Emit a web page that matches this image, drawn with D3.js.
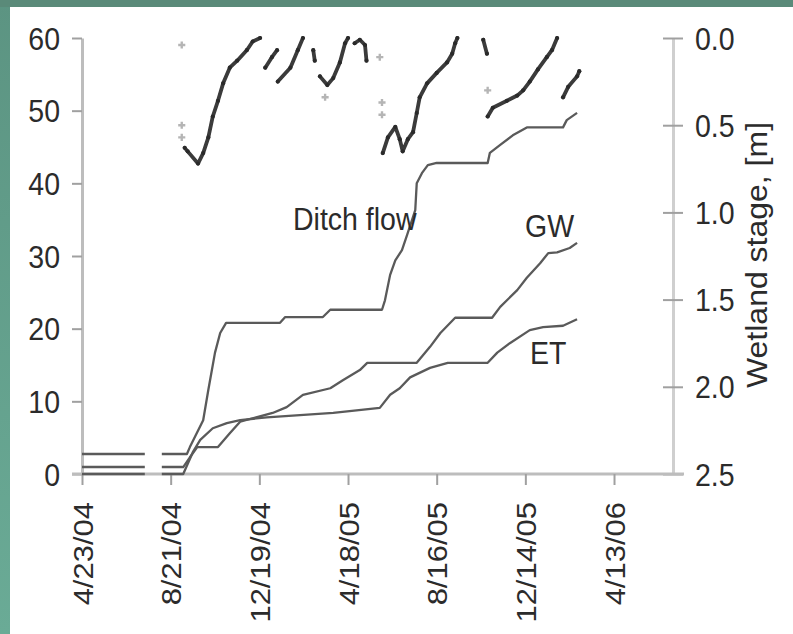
<!DOCTYPE html>
<html>
<head>
<meta charset="utf-8">
<script src="https://cdn.jsdelivr.net/npm/d3@7"></script>
<style>
  html, body { margin: 0; padding: 0; background: #fff; }
  svg { display: block; }
  text { font-family: "Liberation Sans", Arial, Helvetica, sans-serif; fill: #2b2b2b; }
</style>
</head>
<body>
<svg id="chart" width="793" height="634"></svg>
<script>
// ---- Data (days since 4/23/04) ----
const xTickDays = [0, 120, 240, 360, 480, 600, 720];
const xTickLabels = ["4/23/04", "8/21/04", "12/19/04", "4/18/05", "8/16/05", "12/14/05", "4/13/06"];
const yTicks = [0, 10, 20, 30, 40, 50, 60];
const y2Ticks = [0, 0.5, 1.0, 1.5, 2.0, 2.5];

const ditchDay  = [0, 85, 96, 108, 142, 146, 164, 171, 180, 187, 195, 268, 275, 326, 336, 406, 410, 417, 424, 433, 440, 451, 453, 460, 468, 480, 549, 552, 566, 583, 602, 651, 656, 670];
const ditchFlow = [2.75, 2.75, null, 2.75, 2.75, 3.7, 7.4, 11.6, 16.7, 19.4, 20.8, 20.8, 21.6, 21.6, 22.6, 22.6, 23.9, 27.4, 29.4, 30.8, 32.9, 36.3, 40.0, 41.4, 42.5, 42.8, 42.8, 44.2, 45.3, 46.6, 47.7, 47.7, 48.7, 49.7];

const gwDay  = [0, 85, 96, 108, 137, 146, 156, 184, 200, 214, 258, 277, 299, 336, 353, 376, 386, 453, 471, 485, 505, 555, 566, 589, 602, 620, 631, 643, 660, 670];
const gwFlow = [0.96, 0.96, null, 0.96, 0.96, 2.3, 3.7, 3.7, 5.6, 7.2, 8.4, 9.2, 10.9, 11.8, 12.9, 14.3, 15.3, 15.3, 17.5, 19.4, 21.5, 21.5, 23.0, 25.3, 27.0, 29.0, 30.4, 30.5, 31.1, 31.8];

const etDay  = [0, 85, 96, 108, 137, 150, 160, 177, 196, 214, 250, 340, 403, 417, 430, 444, 471, 495, 549, 562, 579, 606, 624, 651, 670];
const etFlow = [0, 0, null, 0, 0, 3.0, 4.7, 6.3, 7.0, 7.4, 7.8, 8.4, 9.1, 10.9, 11.8, 13.3, 14.6, 15.3, 15.3, 16.7, 18.0, 19.8, 20.2, 20.4, 21.3];

// wetland stage (m, right axis, inverted); null separates record pieces
const stageDay = [139, 143, 157, 164, 171, 177, 184, 191, 200, 210, 223, 231, 241, null,
                  248, 257, 264, null,
                  265, 282, 292, 299, null,
                  313, 315, null,
                  322, 332, 340, 349, 356, 360, null,
                  369, 376, 383, 385, null,
                  407, 414, 424, 430, 434, 441, 448, 453, 457, 467, 480, 494, 501, 505, 508, null,
                  543, 548, null,
                  549, 556, 575, 589, 597, 606, 617, 629, 636, 643, null,
                  651, 658, 670, 673];
const stage    = [0.63, 0.65, 0.72, 0.66, 0.57, 0.45, 0.36, 0.26, 0.17, 0.13, 0.07, 0.02, 0.0, null,
                  0.17, 0.11, 0.07, null,
                  0.25, 0.17, 0.07, 0.0, null,
                  0.07, 0.13, null,
                  0.22, 0.27, 0.23, 0.14, 0.03, 0.0, null,
                  0.03, 0.01, 0.04, 0.13, null,
                  0.66, 0.57, 0.51, 0.58, 0.65, 0.58, 0.54, 0.43, 0.34, 0.26, 0.20, 0.14, 0.09, 0.03, 0.0, null,
                  0.01, 0.09, null,
                  0.45, 0.40, 0.36, 0.33, 0.30, 0.25, 0.18, 0.11, 0.07, 0.0, null,
                  0.34, 0.28, 0.22, 0.19];
const stageLooseDay = [135, 135, 135, 329, 403, 406, 406, 549];
const stageLoose    = [0.04, 0.50, 0.57, 0.34, 0.11, 0.37, 0.44, 0.30];

const seriesLabels = ["Ditch flow", "GW", "ET"];
const rightTitle = "Wetland stage, [m]";

// ---- Drawing ----
const svg = d3.select("#chart");
const W = 793, H = 634;
const SX = 0.92; // horizontal squeeze of the glyphs

// background frame
const defs = svg.append("defs");
const grad = defs.append("linearGradient").attr("id", "frameGrad").attr("x1", 0).attr("y1", 0).attr("x2", 0).attr("y2", 1);
grad.append("stop").attr("offset", "0%").attr("stop-color", "#5c9482");
grad.append("stop").attr("offset", "100%").attr("stop-color", "#6aab96");
const blur = defs.append("filter").attr("id", "soft").attr("x", "-5%").attr("y", "-5%").attr("width", "110%").attr("height", "110%");
blur.append("feGaussianBlur").attr("stdDeviation", 0.45);
svg.append("rect").attr("x", 0).attr("y", 0).attr("width", W).attr("height", H).attr("fill", "url(#frameGrad)");
svg.append("rect").attr("x", 0).attr("y", 0).attr("width", W).attr("height", 7).attr("fill", "#5a8a79");
svg.append("rect").attr("x", 10).attr("y", 7).attr("width", W - 10).attr("height", H - 7).attr("fill", "#ffffff");

const x = d3.scaleLinear().domain([0, 812]).range([82, 682]);
const y = d3.scaleLinear().domain([0, 60]).range([474, 38]);
const y2 = d3.scaleLinear().domain([0, 2.5]).range([38, 474]);

const axisColor = "#bdbdbd";
const tickColor = "#a0a0a0";
const fs = 31;

// left axis
const gL = svg.append("g").attr("transform", "translate(82,0)")
  .call(d3.axisLeft(y).tickValues(yTicks).tickSize(10).tickSizeOuter(0).tickFormat(d3.format("d")));
gL.select(".domain").attr("stroke", axisColor).attr("stroke-width", 3);
gL.selectAll(".tick line").attr("stroke", tickColor).attr("stroke-width", 2);
gL.selectAll(".tick text")
  .attr("x", null).attr("dy", "0.36em")
  .attr("transform", `translate(-22,0) scale(${SX},1)`)
  .attr("text-anchor", "end").attr("font-size", fs).attr("fill", "#2b2b2b")
  .attr("font-family", '"Liberation Sans", Arial, sans-serif');

// right axis
const gR = svg.append("g").attr("transform", "translate(673,0)")
  .call(d3.axisRight(y2).tickValues(y2Ticks).tickSize(10).tickSizeOuter(0).tickFormat(d3.format(".1f")));
gR.select(".domain").attr("stroke", "#cfcfcf").attr("stroke-width", 3);
gR.selectAll(".tick line").attr("x1", -10).attr("x2", 10).attr("stroke", tickColor).attr("stroke-width", 2);
gR.selectAll(".tick text")
  .attr("x", null).attr("dy", "0.36em")
  .attr("transform", `translate(22,0) scale(${SX},1)`)
  .attr("text-anchor", "start").attr("font-size", fs).attr("fill", "#2b2b2b")
  .attr("font-family", '"Liberation Sans", Arial, sans-serif');

// bottom axis
const gB = svg.append("g").attr("transform", "translate(0,474)")
  .call(d3.axisBottom(x).tickValues(xTickDays).tickSize(11).tickSizeOuter(0)
    .tickFormat((d, i) => xTickLabels[i]));
gB.select(".domain").attr("stroke", axisColor).attr("stroke-width", 3)
  .attr("d", `M72,0H684`);
gB.selectAll(".tick line").attr("stroke", tickColor).attr("stroke-width", 2);
gB.selectAll(".tick text")
  .attr("y", null).attr("dy", "0.36em")
  .attr("transform", `translate(0,28) scale(${SX},1) rotate(-90)`)
  .attr("text-anchor", "end").attr("font-size", fs).attr("fill", "#2b2b2b")
  .attr("font-family", '"Liberation Sans", Arial, sans-serif');

// flow lines
const line = d3.line().defined(d => d[1] != null).x(d => x(d[0])).y(d => y(d[1]));
const zip = (a, b) => a.map((v, i) => [v, b[i]]);
[[ditchDay, ditchFlow], [gwDay, gwFlow], [etDay, etFlow]].forEach(([dd, vv]) => {
  svg.append("path").datum(zip(dd, vv)).attr("d", line)
    .attr("fill", "none").attr("stroke", "#5a5a5a").attr("stroke-width", 2.3)
    .attr("stroke-linejoin", "round");
});

// wetland stage
const sline = d3.line().defined(d => d[0] != null && d[1] != null).x(d => x(d[0])).y(d => y2(d[1]));
const sdata = zip(stageDay, stage);
const gS = svg.append("g").attr("filter", "url(#soft)");
gS.append("path").datum(sdata).attr("d", sline)
  .attr("fill", "none").attr("stroke", "#3a3a3a").attr("stroke-width", 3.8)
  .attr("stroke-linejoin", "round").attr("stroke-linecap", "round");
gS.append("g").selectAll("circle").data(sdata.filter(d => d[0] != null)).join("circle")
  .attr("cx", d => x(d[0])).attr("cy", d => y2(d[1])).attr("r", 2.1).attr("fill", "#2a2a2a");
svg.append("g").selectAll("path").data(zip(stageLooseDay, stageLoose)).join("path")
  .attr("d", d3.symbol(d3.symbolCross).size(28))
  .attr("transform", d => `translate(${x(d[0])},${y2(d[1])})`)
  .attr("fill", "#b5b5b5");

// series labels
const labelPos = [[293, 230], [525, 237], [530, 364]];
seriesLabels.forEach((t, i) => {
  svg.append("text").text(t)
    .attr("transform", `translate(${labelPos[i][0]},${labelPos[i][1]}) scale(${SX},1)`)
    .attr("font-size", fs).attr("fill", "#2b2b2b");
});

// right axis title
svg.append("text").text(rightTitle)
  .attr("transform", `translate(767,255) scale(${SX},1) rotate(-90)`)
  .attr("text-anchor", "middle").attr("font-size", fs + 1).attr("fill", "#2b2b2b");
</script>
</body>
</html>
